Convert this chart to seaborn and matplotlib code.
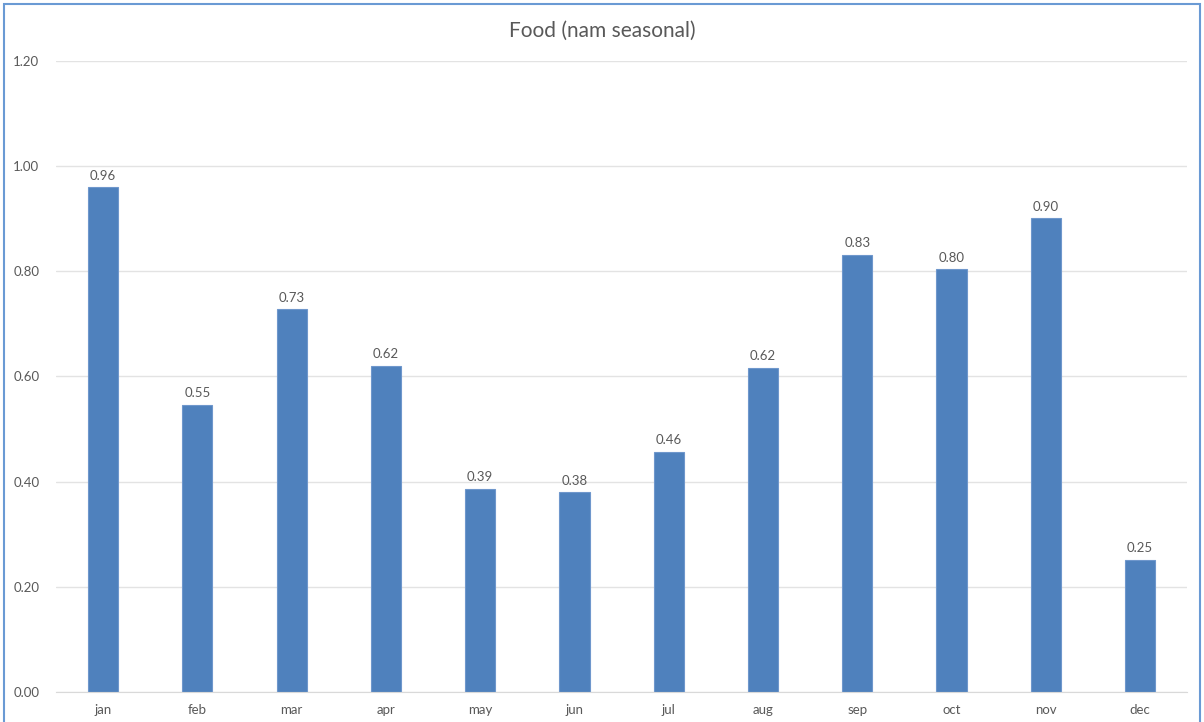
import pandas as pd
import matplotlib.pyplot as plt
import seaborn as sns
from matplotlib.patches import Rectangle

meses = ["jan", "feb", "mar", "apr", "may", "jun", "jul", "aug", "sep", "oct", "nov", "dec"]
valores = [0.960, 0.546, 0.728, 0.620, 0.386, 0.380, 0.457, 0.617, 0.831, 0.804, 0.901, 0.251]
ticks_y = [0.0, 0.2, 0.4, 0.6, 0.8, 1.0, 1.2]

df = pd.DataFrame({"mes": meses, "valor": valores})

sns.set_style("white")
plt.rcParams['font.family'] = ['Lato', 'DejaVu Sans']

fig = plt.figure(figsize=(12.04, 7.22), dpi=100)
ax = fig.add_axes([0.0465, 0.0416, 0.9395, 0.874])

sns.barplot(data=df, x="mes", y="valor", color="#4F81BD", width=0.32,
            saturation=1, edgecolor="#6F97CC", linewidth=0.8, ax=ax)

ax.bar_label(ax.containers[0], fmt="%.2f", padding=4, fontsize=9.5, color="#595959")

ax.set_ylim(0, 1.2)
ax.set_yticks(ticks_y)
ax.set_yticklabels([f"{t:.2f}" for t in ticks_y])
ax.set_xlim(-0.5, 11.5)
ax.grid(axis='y', color="#E3E3E3", linewidth=1)
ax.set_axisbelow(True)
for lado in ["top", "right", "left"]:
    ax.spines[lado].set_visible(False)
ax.spines["bottom"].set_color("#D9D9D9")
ax.tick_params(axis='both', length=0, labelsize=9.5, colors="#595959")
ax.tick_params(axis='y', pad=12)
ax.tick_params(axis='x', pad=9)
ax.set_xlabel("")
ax.set_ylabel("")

fig.text(0.5, 0.957, "Food (nam seasonal)", ha="center", va="center",
         fontsize=15, color="#595959")

fig.patches.append(Rectangle((0.003, -0.01), 0.994, 1.005, transform=fig.transFigure,
                             fill=False, edgecolor="#6A9AD4", linewidth=1.5))

plt.savefig("out.png", dpi=100)
